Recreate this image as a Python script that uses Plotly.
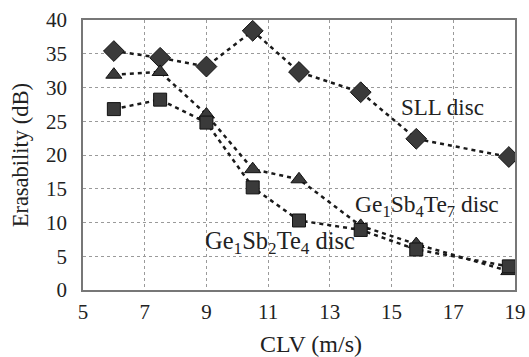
import plotly.graph_objects as go

clv = [6, 7.5, 9, 10.5, 12, 14, 15.8, 18.8]
sll = [35.4, 34.4, 33.1, 38.4, 32.3, 29.3, 22.4, 19.7]
gst147 = [31.9, 32.3, 26.0, 17.9, 16.4, 9.5, 6.8, 2.8]
gst124 = [26.8, 28.2, 24.8, 15.2, 10.3, 8.9, 6.0, 3.5]

xticks = [5, 7, 9, 11, 13, 15, 17, 19]
yticks = [0, 5, 10, 15, 20, 25, 30, 35, 40]

font = "Times New Roman, Liberation Serif, serif"
fig = go.Figure()

series = [
    (sll, "diamond", 16, "SLL disc"),
    (gst147, "triangle-up", 14, "Ge1Sb4Te7 disc"),
    (gst124, "square", 13, "Ge1Sb2Te4 disc"),
]
for ys, sym, sz, name in series:
    fig.add_trace(go.Scatter(
        x=clv, y=ys, mode="lines+markers", name=name,
        line=dict(color="#1a1a1a", width=2.5, dash="4px,4px"),
        marker=dict(symbol=sym, size=sz, color="#3a3a3a",
                    line=dict(color="#111111", width=1)),
        showlegend=False,
    ))

fig.add_annotation(x=16.65, y=27.0, text="SLL disc", showarrow=False,
                   font=dict(family=font, size=23, color="#222"))
fig.add_annotation(x=16.15, y=12.5, text="Ge<sub>1</sub>Sb<sub>4</sub>Te<sub>7</sub> disc",
                   showarrow=False, font=dict(family=font, size=23.5, color="#222"))
fig.add_annotation(x=11.4, y=7.0, text="Ge<sub>1</sub>Sb<sub>2</sub>Te<sub>4</sub> disc",
                   showarrow=False, font=dict(family=font, size=24.5, color="#222"))
fig.add_annotation(xref="paper", yref="paper", x=-0.145, y=0.5, xanchor="center",
                   yanchor="middle", textangle=-90, text="Erasability (dB)",
                   showarrow=False, font=dict(family=font, size=22.5, color="#222"))
fig.add_annotation(xref="paper", yref="paper", x=0.528, y=-0.2, xanchor="center",
                   yanchor="middle", text="CLV (m/s)",
                   showarrow=False, font=dict(family=font, size=24, color="#222"))

axis_common = dict(
    showgrid=True, gridcolor="#9a9a9a", griddash="dot", gridwidth=1,
    showline=True, linecolor="#777777", linewidth=1.5, mirror=True,
    ticks="", zeroline=False, automargin=False,
    tickfont=dict(family=font, size=21, color="#222"),
)
fig.update_xaxes(range=[5, 19], tickvals=xticks, ticklabelstandoff=2, **axis_common)
fig.update_yaxes(range=[0, 40], tickvals=yticks, ticklabelstandoff=10, **axis_common)

fig.update_layout(
    width=529, height=357,
    margin=dict(l=83, r=14, t=20, b=67),
    paper_bgcolor="white", plot_bgcolor="white",
    font=dict(family=font),
)
fig.write_html("out.html")
